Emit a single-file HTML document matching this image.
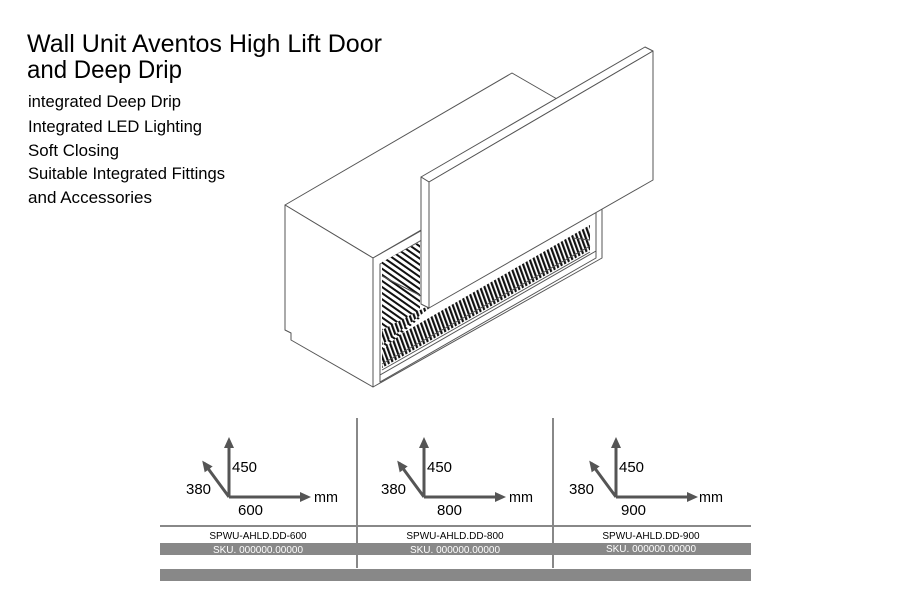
<!DOCTYPE html>
<html><head><meta charset="utf-8"><style>
html,body{margin:0;padding:0;background:#fff;}
svg{display:block;}
text{font-family:"Liberation Sans Narrow","Liberation Sans",sans-serif;}
</style></head><body>
<svg width="900" height="600" viewBox="0 0 900 600" xmlns="http://www.w3.org/2000/svg">
<defs>
<pattern id="tines" width="4" height="6" patternUnits="userSpaceOnUse" patternTransform="rotate(-20)">
<rect width="4" height="6" fill="#fff"/><rect x="0" y="0" width="2.2" height="6" fill="#111"/>
</pattern>
<pattern id="curves" width="6" height="5" patternUnits="userSpaceOnUse" patternTransform="rotate(35)">
<rect width="6" height="5" fill="#fff"/><rect x="0" y="0" width="6" height="2" fill="#111"/>
</pattern>
<marker id="ah" markerWidth="11" markerHeight="10" refX="8" refY="5" orient="auto" markerUnits="userSpaceOnUse">
<path d="M0,0 L11,5 L0,10 Z" fill="#555"/></marker>
</defs>

<text x="27" y="52" font-size="25" textLength="355" lengthAdjust="spacingAndGlyphs" fill="#000">Wall Unit Aventos High Lift Door</text>
<text x="27" y="78" font-size="25" textLength="155" lengthAdjust="spacingAndGlyphs" fill="#000">and Deep Drip</text>
<g font-size="17" fill="#000">
<text x="28" y="107" textLength="153" lengthAdjust="spacingAndGlyphs">integrated Deep Drip</text>
<text x="28" y="132" textLength="174" lengthAdjust="spacingAndGlyphs">Integrated LED Lighting</text>
<text x="28" y="156" textLength="91" lengthAdjust="spacingAndGlyphs">Soft Closing</text>
<text x="28" y="179" textLength="197" lengthAdjust="spacingAndGlyphs">Suitable Integrated Fittings</text>
<text x="28" y="203" textLength="124" lengthAdjust="spacingAndGlyphs">and Accessories</text>
</g>

<g stroke="#555" stroke-width="1" fill="#fff" stroke-linejoin="round">
<polygon points="285,205 512,73 602,125 373,258"/>
<polygon points="285,205 373,258 373,387 291,340 291,333 285,330"/>
<polygon points="373,258 602,128 602,258 373,387"/>
<polygon points="380,264 596,140 596,252 380,376" fill="#fff"/>
<polygon points="380,375 596,251 596,258 380,382" fill="#fff"/>
</g>
<polygon points="382,345 382,368 590,250 590,225" fill="url(#tines)"/>
<polygon points="382,262 420,242 420,318 382,350" fill="url(#curves)"/>
<polygon points="382,330 420,310 440,300 382,345" fill="url(#tines)"/>
<g stroke="#555" stroke-width="1" fill="none">
<line x1="382" y1="370" x2="590" y2="252"/>
<line x1="382" y1="364" x2="590" y2="246"/>
<line x1="573" y1="238" x2="590" y2="240"/>
<line x1="382" y1="276" x2="425" y2="298"/>
</g>
<g stroke="#555" stroke-width="1" fill="#fff" stroke-linejoin="round">
<polygon points="421,177 645,47 653,51 429,182"/>
<polygon points="421,177 429,182 429,308 421,304"/>
<polygon points="429,182 653,51 653,180 429,308"/>
</g>

<g stroke="#888" stroke-width="2">
<line x1="357" y1="418" x2="357" y2="568"/>
<line x1="553" y1="418" x2="553" y2="568"/>
<line x1="160" y1="526" x2="751" y2="526"/>
</g>
<rect x="160" y="543" width="591" height="12" fill="#888"/>
<rect x="160" y="569" width="591" height="12" fill="#888"/>

<g stroke="#555" stroke-width="3" fill="none">
<line x1="229" y1="497" x2="229" y2="440" marker-end="url(#ah)"/>
<line x1="229" y1="497" x2="308" y2="497" marker-end="url(#ah)"/>
<line x1="229" y1="497" x2="204" y2="463" marker-end="url(#ah)"/>
<line x1="424" y1="497" x2="424" y2="440" marker-end="url(#ah)"/>
<line x1="424" y1="497" x2="503" y2="497" marker-end="url(#ah)"/>
<line x1="424" y1="497" x2="399" y2="463" marker-end="url(#ah)"/>
<line x1="616" y1="497" x2="616" y2="440" marker-end="url(#ah)"/>
<line x1="616" y1="497" x2="695" y2="497" marker-end="url(#ah)"/>
<line x1="616" y1="497" x2="591" y2="463" marker-end="url(#ah)"/>
</g>
<g font-size="15" fill="#000">
<text x="232" y="472" textLength="25" lengthAdjust="spacingAndGlyphs">450</text><text x="186" y="494" textLength="25" lengthAdjust="spacingAndGlyphs">380</text><text x="238" y="515" textLength="25" lengthAdjust="spacingAndGlyphs">600</text><text x="314" y="502" textLength="24" lengthAdjust="spacingAndGlyphs">mm</text>
<text x="427" y="472" textLength="25" lengthAdjust="spacingAndGlyphs">450</text><text x="381" y="494" textLength="25" lengthAdjust="spacingAndGlyphs">380</text><text x="437" y="515" textLength="25" lengthAdjust="spacingAndGlyphs">800</text><text x="509" y="502" textLength="24" lengthAdjust="spacingAndGlyphs">mm</text>
<text x="619" y="472" textLength="25" lengthAdjust="spacingAndGlyphs">450</text><text x="569" y="494" textLength="25" lengthAdjust="spacingAndGlyphs">380</text><text x="621" y="515" textLength="25" lengthAdjust="spacingAndGlyphs">900</text><text x="699" y="502" textLength="24" lengthAdjust="spacingAndGlyphs">mm</text>
</g>
<g font-size="10" text-anchor="middle">
<text x="258" y="539" fill="#000">SPWU-AHLD.DD-600</text>
<text x="455" y="539" fill="#000">SPWU-AHLD.DD-800</text>
<text x="651" y="539" fill="#000">SPWU-AHLD.DD-900</text>
<text x="258" y="553" fill="#fff">SKU. 000000.00000</text>
<text x="455" y="553" fill="#fff">SKU. 000000.00000</text>
<text x="651" y="552" fill="#fff">SKU. 000000.00000</text>
</g>
</svg>
</body></html>
